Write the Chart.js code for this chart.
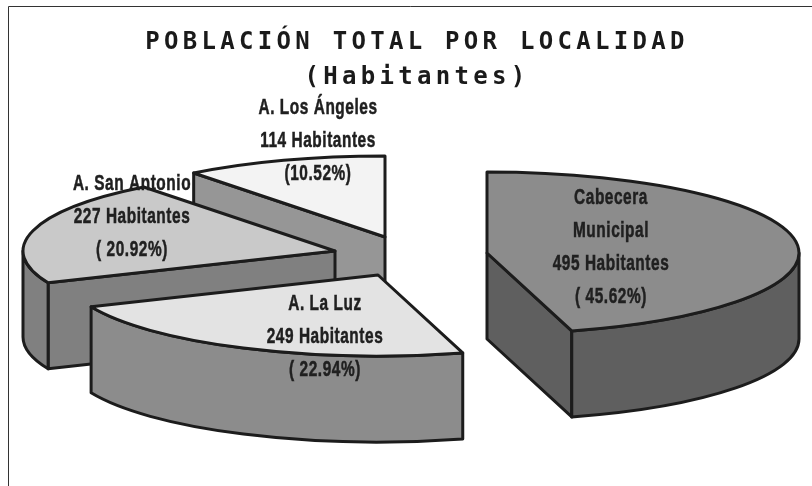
<!DOCTYPE html>
<html>
<head>
<meta charset="utf-8">
<style>html,body{margin:0;padding:0;background:#fff}canvas{display:block}</style>
<script src="https://cdn.jsdelivr.net/npm/chart.js@4"></script>
</head>
<body>
<canvas id="c" width="812" height="486"></canvas>
<script>
// --- data ---
const categories = ["Cabecera Municipal", "A. La Luz", "A. San Antonio", "A. Los Ángeles"];
const inhabitants = [495, 249, 227, 114];
const percentText = ["( 45.62%)", "( 22.94%)", "( 20.92%)", "(10.52%)"];
const nameLines = [["Cabecera", "Municipal"], ["A. La Luz"], ["A. San Antonio"], ["A. Los Ángeles"]];
const titleLines = ["POBLACIÓN TOTAL POR LOCALIDAD", "(Habitantes)"];

// --- styling ---
const topColors = ["#8c8c8c", "#e3e3e3", "#c9c9c9", "#f3f3f3"];
const wallColors = ["#5f5f5f", "#8c8c8c", "#808080", "#969696"];
const explode = [[70, -1], [-39, 21], [-82, -3], [-32, -17]];
const labelAnchor = [[611, 198], [325, 304], [132, 184], [318, 108]];
const paintOrder = [3, 2, 1, 0];
const RX = 312, RY = 81, DEPTH = 86, LINE = "#1c1c1c", LW = 3;

const pie3d = {
  id: "pie3d",
  beforeDraw(chart) {
    const ctx = chart.ctx;
    ctx.letterSpacing = "4.3px";
    ctx.save();
    ctx.strokeStyle = "#333"; ctx.lineWidth = 1;
    ctx.beginPath();
    ctx.moveTo(812, 6.5); ctx.lineTo(8.5, 6.5); ctx.lineTo(8.5, 486);
    ctx.stroke();
    ctx.restore();
  },
  beforeDatasetDraw(chart, args) {
    const ctx = chart.ctx;
    ctx.letterSpacing = "0px";
    const meta = args.meta;
    ctx.save();
    ctx.lineWidth = LW; ctx.strokeStyle = LINE; ctx.lineJoin = "round";
    paintOrder.forEach(i => {
      const el = meta.data[i];
      const ax = el.x + explode[i][0], ay = el.y + explode[i][1];
      const a = el.startAngle, b = el.endAngle;
      const rim = t => [ax + RX * Math.cos(t), ay + RY * Math.sin(t)];
      ctx.fillStyle = wallColors[i];

      const face = t => {
        const q = rim(t);
        ctx.beginPath();
        ctx.moveTo(ax, ay); ctx.lineTo(q[0], q[1]);
        ctx.lineTo(q[0], q[1] + DEPTH); ctx.lineTo(ax, ay + DEPTH);
        ctx.closePath(); ctx.fill(); ctx.stroke();
      };
      if (Math.cos(a) < -1e-6) face(a);
      if (Math.cos(b) > 1e-6) face(b);

      const from = Math.max(a, 0), to = Math.min(b, Math.PI);
      if (to > from) {
        ctx.beginPath();
        ctx.ellipse(ax, ay, RX, RY, 0, from, to);
        ctx.ellipse(ax, ay + DEPTH, RX, RY, 0, to, from, true);
        ctx.closePath(); ctx.fill(); ctx.stroke();
      }

      ctx.save();
      ctx.translate(ax, ay);
      ctx.scale(1, RY / RX);
      ctx.translate(-el.x, -el.y);
      el.draw(ctx);
      ctx.restore();

      ctx.beginPath();
      ctx.moveTo(ax, ay);
      ctx.ellipse(ax, ay, RX, RY, 0, a, b);
      ctx.closePath(); ctx.stroke();
    });
    ctx.restore();
    return false;
  },
  afterDatasetsDraw(chart) {
    const ctx = chart.ctx;
    ctx.save();
    ctx.letterSpacing = "0.8px";
    ctx.font = 'bold 22px "Liberation Sans", sans-serif';
    ctx.fillStyle = "#202020";
    ctx.strokeStyle = "#202020";
    ctx.lineWidth = 0.5;
    ctx.textAlign = "center"; ctx.textBaseline = "middle";
    categories.forEach((_, i) => {
      const lines = [...nameLines[i], inhabitants[i] + " Habitantes", percentText[i]];
      lines.forEach((s, k) => {
        ctx.save();
        ctx.translate(labelAnchor[i][0], labelAnchor[i][1] + k * 33);
        ctx.scale(0.7, 1);
        ctx.fillText(s, 0, 0);
        ctx.strokeText(s, 0, 0);
        ctx.restore();
      });
    });
    ctx.restore();
  }
};

new Chart(document.getElementById("c"), {
  type: "pie",
  data: {
    labels: categories,
    datasets: [{ data: inhabitants, backgroundColor: topColors, borderWidth: 0, radius: RX }]
  },
  options: {
    responsive: false,
    animation: false,
    rotation: 0,
    layout: { padding: { bottom: 73, left: 22 } },
    plugins: {
      legend: { display: false },
      tooltip: { enabled: false },
      title: {
        display: true,
        fullSize: false,
        text: titleLines,
        color: "#1a1a1a",
        font: { family: '"DejaVu Sans Mono", monospace', size: 24, weight: "bold", lineHeight: 1.458 },
        padding: { top: 25, bottom: 0 }
      }
    }
  },
  plugins: [pie3d]
});
</script>
</body>
</html>
